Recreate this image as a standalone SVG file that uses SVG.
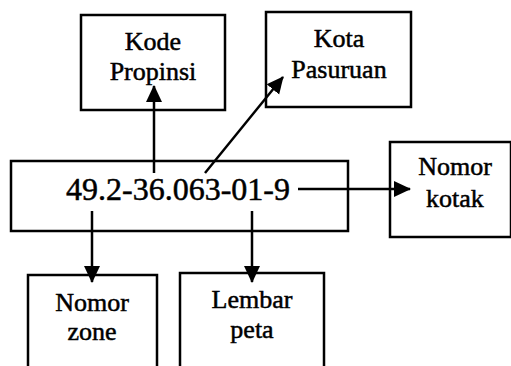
<svg xmlns="http://www.w3.org/2000/svg" width="511" height="366" viewBox="0 0 511 366">
<style>
.box{fill:#fff;stroke:#000;stroke-width:2.5}
.t{font-family:'Liberation Serif','Times New Roman','DejaVu Serif',serif;font-size:26px;fill:#000;stroke:#000;stroke-width:0.5;text-anchor:middle}
.main{font-size:32px}
.c{stroke:#000;stroke-width:2.5;fill:none;marker-end:url(#ah)}
</style>
<defs>
<marker id="ah" markerUnits="userSpaceOnUse" markerWidth="18" markerHeight="18" viewBox="0 0 18 18" refX="16" refY="9" orient="auto">
<path d="M0,1 L17,9 L0,17 Z" fill="#000"/>
</marker>
</defs>
<rect width="511" height="366" fill="#fff"/>
<g id="n-main">
<rect class="box" x="11" y="161" width="337" height="70"/>
<text class="t main" x="178" y="200">49.2-36.063-01-9</text>
</g>
<g id="n-kode">
<rect class="box" x="81" y="15" width="144" height="95"/>
<text class="t" x="153" y="50">Kode</text>
<text class="t" x="153" y="80">Propinsi</text>
</g>
<g id="n-kota">
<rect class="box" x="266" y="12" width="145" height="95"/>
<text class="t" x="339" y="47">Kota</text>
<text class="t" x="339" y="78">Pasuruan</text>
</g>
<g id="n-kotak">
<rect class="box" x="390" y="142" width="121" height="95"/>
<text class="t" x="455" y="175">Nomor</text>
<text class="t" x="455" y="207">kotak</text>
</g>
<g id="n-zone">
<rect class="box" x="28" y="275" width="129" height="100"/>
<text class="t" x="92" y="311">Nomor</text>
<text class="t" x="92" y="340">zone</text>
</g>
<g id="n-lembar">
<rect class="box" x="180" y="273" width="144" height="100"/>
<text class="t" x="252" y="308">Lembar</text>
<text class="t" x="252" y="338">peta</text>
</g>
<g id="connectors">
<line class="c" x1="154" y1="173" x2="154" y2="86"/>
<line class="c" x1="205" y1="173" x2="283" y2="77"/>
<line class="c" x1="298" y1="189" x2="410" y2="189"/>
<line class="c" x1="92" y1="211" x2="92" y2="282"/>
<line class="c" x1="252" y1="211" x2="252" y2="282"/>
</g>
</svg>
